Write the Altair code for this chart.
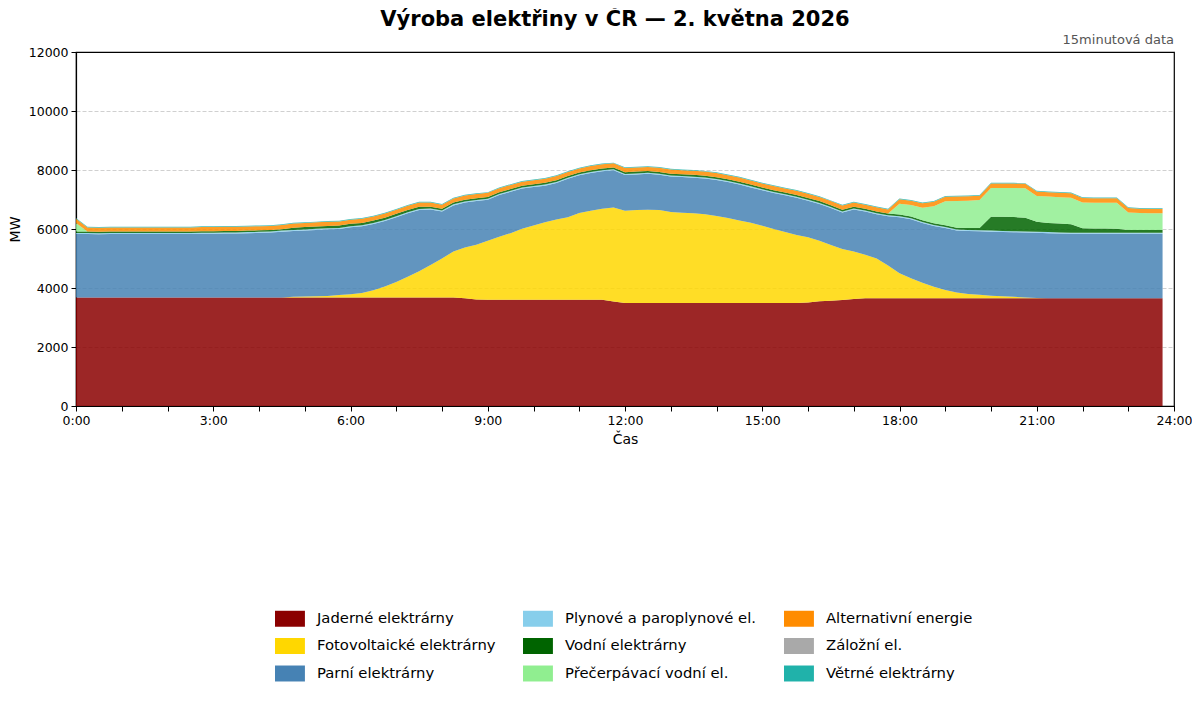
import altair as alt
import pandas as pd

# --- time grid (15-minute steps) ---
hours = [h + q / 4 for h in range(24) for q in range(4)]

series = [
    "Jaderné elektrárny",
    "Fotovoltaické elektrárny",
    "Parní elektrárny",
    "Plynové a paroplynové el.",
    "Vodní elektrárny",
    "Přečerpávací vodní el.",
    "Alternativní energie",
    "Záložní el.",
    "Větrné elektrárny",
]
colors = ["#8B0000", "#FFD700", "#4682B4", "#87CEEB", "#006400",
          "#90EE90", "#FF8C00", "#A9A9A9", "#20B2AA"]

jaderne = [
    3680, 3680, 3680, 3680,  3680, 3680, 3680, 3680,  3680, 3680, 3680, 3680,
    3680, 3680, 3680, 3680,  3680, 3680, 3680, 3680,  3680, 3680, 3680, 3680,
    3680, 3680, 3680, 3680,  3680, 3680, 3680, 3680,  3680, 3680, 3650, 3610,
    3600, 3600, 3600, 3600,  3600, 3600, 3600, 3600,  3600, 3600, 3600, 3540,
    3490, 3490, 3490, 3490,  3490, 3490, 3490, 3490,  3490, 3490, 3490, 3490,
    3490, 3490, 3490, 3490,  3510, 3550, 3570, 3590,  3630, 3650, 3650, 3650,
    3650, 3650, 3650, 3650,  3650, 3650, 3650, 3650,  3650, 3650, 3650, 3650,
    3650, 3650, 3650, 3650,  3650, 3650, 3650, 3650,  3650, 3650, 3650, 3650,
]
fotovoltaicke = [
    0, 0, 0, 0,  0, 0, 0, 0,  0, 0, 0, 0,
    0, 0, 0, 0,  0, 0, 0, 20,  30, 40, 50, 80,
    110, 150, 240, 370,  520, 700, 890, 1100,  1320, 1560, 1720, 1860,
    2000, 2140, 2260, 2410,  2520, 2630, 2720, 2800,  2940, 3020, 3090, 3190,
    3130, 3150, 3160, 3150,  3090, 3060, 3040, 3010,  2950, 2880, 2800, 2720,
    2620, 2510, 2410, 2310,  2210, 2050, 1890, 1730,  1610, 1480, 1350, 1110,
    850, 680, 530, 390,  280, 200, 150, 120,  90, 70, 50, 30,
    10, 0, 0, 0,  0, 0, 0, 0,  0, 0, 0, 0,
]
parni = [
    2150, 2150, 2140, 2150,  2150, 2150, 2150, 2150,  2150, 2150, 2150, 2160,
    2160, 2170, 2170, 2180,  2190, 2200, 2230, 2230,  2240, 2250, 2260, 2240,
    2270, 2260, 2250, 2220,  2200, 2150, 2070, 1880,  1590, 1560, 1530, 1480,
    1390, 1410, 1400, 1360,  1300, 1240, 1240, 1300,  1280, 1280, 1270, 1260,
    1210, 1210, 1220, 1200,  1200, 1210, 1210, 1210,  1220, 1220, 1220, 1200,
    1200, 1220, 1240, 1260,  1240, 1250, 1250, 1240,  1420, 1460, 1500, 1670,
    1900, 2000, 2020, 2060,  2100, 2100, 2130, 2150,  2170, 2180, 2190, 2200,
    2210, 2210, 2200, 2190,  2190, 2190, 2190, 2190,  2190, 2190, 2190, 2190,
]
plynove = [
    35, 35, 35, 35,  35, 35, 35, 35,  35, 35, 35, 35,
    35, 35, 35, 35,  35, 35, 35, 35,  35, 35, 35, 35,
    35, 35, 35, 35,  35, 35, 35, 35,  35, 35, 35, 35,
    35, 35, 35, 35,  35, 35, 35, 35,  35, 35, 35, 35,
    35, 35, 35, 35,  35, 35, 35, 35,  35, 35, 35, 35,
    35, 35, 35, 35,  35, 35, 35, 35,  35, 35, 35, 35,
    35, 35, 35, 35,  35, 35, 35, 35,  35, 35, 35, 35,
    35, 35, 35, 35,  35, 35, 35, 35,  35, 35, 35, 35,
]
vodni = [
    50, 50, 50, 50,  50, 50, 50, 50,  50, 50, 50, 50,
    50, 50, 50, 50,  50, 50, 50, 80,  80, 80, 80, 80,
    80, 80, 80, 80,  80, 80, 80, 60,  60, 60, 60, 60,
    60, 60, 60, 60,  60, 60, 60, 60,  60, 60, 60, 60,
    60, 60, 60, 60,  60, 60, 60, 60,  60, 60, 60, 60,
    60, 60, 60, 60,  60, 60, 60, 60,  60, 60, 60, 60,
    60, 60, 60, 60,  60, 60, 70, 80,  470, 480, 480, 470,
    340, 310, 300, 290,  150, 140, 140, 130,  90, 90, 90, 90,
]
precerpavaci = [
    290, 0, 0, 0,  0, 0, 0, 0,  0, 0, 0, 0,
    0, 0, 0, 0,  0, 0, 0, 0,  0, 0, 0, 0,
    0, 0, 0, 0,  0, 0, 0, 0,  0, 0, 0, 0,
    0, 0, 0, 0,  0, 0, 0, 0,  0, 0, 0, 0,
    0, 0, 0, 0,  0, 0, 0, 0,  0, 0, 0, 0,
    0, 0, 0, 0,  0, 0, 0, 0,  0, 0, 0, 0,
    360, 385, 425, 575,  815, 905, 925, 945,  975, 975, 985, 995,
    875, 895, 895, 895,  875, 875, 875, 885,  595, 575, 565, 565,
]
alternativni = [
    140, 140, 140, 140,  140, 140, 140, 140,  140, 140, 140, 140,
    140, 140, 140, 140,  140, 140, 140, 140,  140, 140, 140, 140,
    140, 140, 140, 140,  140, 140, 140, 140,  140, 140, 140, 140,
    140, 140, 140, 140,  140, 140, 140, 140,  140, 140, 140, 140,
    140, 140, 140, 140,  140, 140, 140, 140,  140, 140, 140, 140,
    140, 140, 140, 140,  140, 140, 140, 140,  140, 140, 140, 140,
    150, 150, 150, 150,  150, 150, 150, 150,  150, 150, 150, 150,
    150, 150, 150, 150,  150, 150, 150, 150,  150, 150, 150, 150,
]
zalozni = [
    0, 0, 0, 0,  0, 0, 0, 0,  0, 0, 0, 0,
    0, 0, 0, 0,  0, 0, 0, 0,  0, 0, 0, 0,
    0, 0, 0, 0,  0, 0, 0, 0,  0, 0, 0, 0,
    0, 0, 0, 0,  0, 0, 0, 0,  0, 0, 0, 0,
    0, 0, 0, 0,  0, 0, 0, 0,  0, 0, 0, 0,
    0, 0, 0, 0,  0, 0, 0, 0,  0, 0, 0, 0,
    0, 0, 0, 0,  0, 0, 0, 0,  0, 0, 0, 0,
    0, 0, 0, 0,  0, 0, 0, 0,  0, 0, 0, 0,
]
vetrne = [
    25, 25, 25, 25,  25, 25, 25, 25,  25, 25, 25, 25,
    25, 25, 25, 25,  25, 25, 25, 25,  25, 25, 25, 25,
    25, 25, 25, 25,  25, 25, 25, 25,  25, 25, 25, 25,
    25, 25, 25, 25,  25, 25, 25, 25,  25, 25, 25, 25,
    25, 25, 25, 25,  25, 25, 25, 25,  25, 25, 25, 25,
    25, 25, 25, 25,  25, 25, 25, 25,  25, 25, 25, 25,
    25, 25, 25, 25,  25, 25, 25, 25,  25, 25, 25, 25,
    25, 25, 25, 25,  25, 25, 25, 25,  25, 25, 25, 25,
]

title_text = "Výroba elektřiny v ČR — 2. května 2026"
note_text = "15minutová data"

values = [jaderne, fotovoltaicke, parni, plynove, vodni,
          precerpavaci, alternativni, zalozni, vetrne]

rows = []
for k, (name, vals) in enumerate(zip(series, values)):
    for h, v in zip(hours, vals):
        rows.append({"hod": h, "zdroj": name, "MW": v, "poradi": k})
df = pd.DataFrame(rows)

FONT = "DejaVu Sans"
W, H = 1098, 354

area = alt.Chart(df).mark_area(opacity=0.85, interpolate="linear").encode(
    x=alt.X(
        "hod:Q",
        scale=alt.Scale(domain=[0, 24], nice=False, zero=False),
        axis=alt.Axis(
            values=list(range(25)),
            labelExpr="datum.value % 3 == 0 ? datum.value + ':00' : ''",
            title="Čas",
            grid=False,
            labelFlush=False,
            labelOverlap=False,
            tickSize=5,
            labelPadding=3,
            titlePadding=6,
        ),
    ),
    y=alt.Y(
        "MW:Q",
        stack="zero",
        scale=alt.Scale(domain=[0, 12000], nice=False),
        axis=alt.Axis(
            values=[0, 2000, 4000, 6000, 8000, 10000, 12000],
            format="d",
            title="MW",
            grid=True,
            gridDash=[4, 2],
            gridColor="#b0b0b0",
            gridOpacity={"condition": {"test": "datum.value >= 12000 || datum.value <= 0", "value": 0}, "value": 0.6},
            tickSize=5,
            labelPadding=3,
            titlePadding=6,
        ),
    ),
    color=alt.Color(
        "zdroj:N",
        scale=alt.Scale(domain=series, range=colors),
        legend=alt.Legend(
            title=None,
            orient="none",
            legendX=199,
            legendY=558,
            columns=3,
            columnPadding=27,
            rowPadding=10.5,
            symbolType="M-1,-0.94H2.52V0.94H-1Z",
            symbolSize=289,
            symbolOpacity=1,
            symbolStrokeWidth=0,
            labelOffset=25,
            labelFontSize=14.8,
            labelFont=FONT,
            labelColor="#000",
            labelLimit=400,
            padding=0,
        ),
    ),
    order=alt.Order("poradi:Q", sort="ascending"),
)

note = alt.Chart(pd.DataFrame({"t": [note_text]})).mark_text(
    align="right", baseline="bottom", font=FONT, fontSize=13, color="#555"
).encode(x=alt.value(W), y=alt.value(-5), text="t:N")

title = alt.Chart(pd.DataFrame({"t": [title_text]})).mark_text(
    align="center", baseline="middle", font=FONT, fontSize=21,
    fontWeight="bold", color="#000"
).encode(x=alt.value(539), y=alt.value(-32), text="t:N")

chart = alt.layer(area, note, title).properties(
    width=W,
    height=H,
    autosize=alt.AutoSizeParams(type="none"),
    padding={"left": 68, "top": 44, "right": 18, "bottom": 296},
).configure_view(
    stroke="#000", strokeWidth=1.2
).configure_axis(
    labelFont=FONT,
    labelFontSize=12.5,
    labelColor="#000",
    titleFont=FONT,
    titleFontSize=14,
    titleFontWeight="normal",
    titleColor="#000",
    domainColor="#000",
    tickColor="#000",
    domainWidth=1.2,
)

chart.save("out.html", embed_options={"renderer": "svg", "actions": False})
